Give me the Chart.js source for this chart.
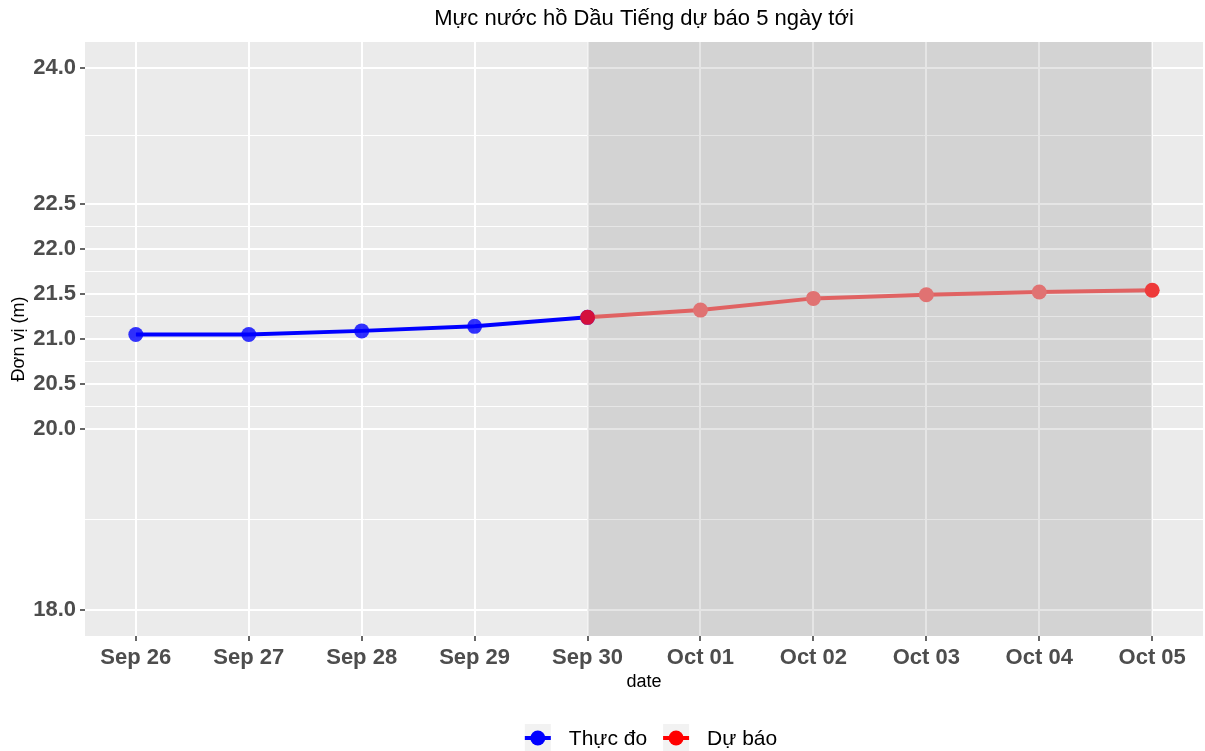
<!DOCTYPE html>
<html>
<head>
<meta charset="utf-8">
<script src="https://cdn.jsdelivr.net/npm/chart.js@4"></script>
<style>
  html, body { margin: 0; padding: 0; background: #ffffff; overflow: hidden; }
  #wrap { width: 1205px; height: 751px; }
</style>
</head>
<body>
<div id="wrap"><canvas id="levelChart"></canvas></div>
<script>
// Chart data
const dates = ['Sep 26', 'Sep 27', 'Sep 28', 'Sep 29', 'Sep 30', 'Oct 01', 'Oct 02', 'Oct 03', 'Oct 04', 'Oct 05'];
const observed = [21.05, 21.05, 21.09, 21.14, 21.24, null, null, null, null, null];
const forecast = [null, null, null, null, 21.24, 21.32, 21.45, 21.49, 21.52, 21.54];
const yBreaks = [18.0, 20.0, 20.5, 21.0, 21.5, 22.0, 22.5, 24.0];
const seriesNames = ['Thực đo', 'Dự báo'];
const chartTitle = 'Mực nước hồ Dầu Tiếng dự báo 5 ngày tới';
const forecastStart = 4; // index of Sep 30

const FONT = "'Liberation Sans', Arial, sans-serif";

// minor breaks halfway between major ones (like ggplot)
let yMinor = [];
for (let i = 0; i < yBreaks.length - 1; i++) {
  yMinor.push((yBreaks[i] + yBreaks[i + 1]) / 2);
}

function toPoints(arr){
  let out = [];
  arr.forEach((v, i) => { if (v !== null) out.push({x: i, y: v}); });
  return out;
}

// panel background + forecast shading
const panelPlugin = {
  id: 'panel',
  beforeDraw(chart){
    const {ctx, chartArea} = chart;
    ctx.save();
    ctx.fillStyle = '#EBEBEB';
    ctx.fillRect(chartArea.left, chartArea.top, chartArea.right - chartArea.left, chartArea.bottom - chartArea.top);
    ctx.restore();
  },
  beforeDatasetsDraw(chart){
    const {ctx, chartArea, scales} = chart;
    let x0 = scales.x.getPixelForValue(forecastStart);
    let x1 = scales.x.getPixelForValue(dates.length - 1);
    ctx.save();
    ctx.fillStyle = 'rgba(0,0,0,0.10)';
    ctx.fillRect(x0, chartArea.top, x1 - x0, chartArea.bottom - chartArea.top);
    ctx.restore();
  }
};

// title centred over the panel + ggplot-like legend at bottom
const textPlugin = {
  id: 'ggText',
  afterDraw(chart){
    const {ctx, chartArea} = chart;
    const mid = (chartArea.left + chartArea.right) / 2;
    ctx.save();
    ctx.fillStyle = '#000000';
    ctx.font = '22px ' + FONT;
    ctx.textAlign = 'center';
    ctx.textBaseline = 'middle';
    ctx.fillText(chartTitle, mid, 19);

    const colors = ['#0000FF', '#FF0000'];
    ctx.font = '21px ' + FONT;
    let keyW = 26, gapKey = 18, gapItem = 16;
    let widths = seriesNames.map(n => ctx.measureText(n).width);
    let total = 0;
    widths.forEach((w, i) => { total += keyW + gapKey + w + (i < widths.length - 1 ? gapItem : 0); });
    let x = mid + 7 - total / 2;
    let cy = 738;
    seriesNames.forEach((name, i) => {
      ctx.fillStyle = '#F2F2F2';
      ctx.fillRect(x, cy - 14, keyW, 28);
      ctx.strokeStyle = colors[i];
      ctx.lineWidth = 4;
      ctx.beginPath();
      ctx.moveTo(x, cy);
      ctx.lineTo(x + keyW, cy);
      ctx.stroke();
      ctx.fillStyle = colors[i];
      ctx.beginPath();
      ctx.arc(x + keyW / 2, cy, 7.5, 0, Math.PI * 2);
      ctx.fill();
      ctx.fillStyle = '#000000';
      ctx.textAlign = 'left';
      ctx.fillText(name, x + keyW + gapKey, cy + 1);
      x += keyW + gapKey + widths[i] + gapItem;
    });
    ctx.restore();
  }
};

new Chart(document.getElementById('levelChart'), {
  type: 'line',
  data: {
    datasets: [{
      label: seriesNames[0],
      data: toPoints(observed),
      order: 1,
      borderColor: '#0000FF',
      backgroundColor: 'rgba(0,0,255,0.8)',
      pointBackgroundColor: 'rgba(0,0,255,0.8)',
      pointBorderWidth: 0,
      pointRadius: 7.5,
      borderWidth: 4,
      tension: 0
    }, {
      label: seriesNames[1],
      data: toPoints(forecast),
      order: 0,
      borderColor: '#E06262',
      backgroundColor: '#E07272',
      pointBackgroundColor: ctx => ctx.dataIndex === 0 ? '#D4103C' : (ctx.dataIndex === forecast.length - forecastStart - 1 ? '#EE3A3A' : '#E07272'),
      pointBorderWidth: 0,
      pointRadius: 7.5,
      borderWidth: 4,
      tension: 0
    }]
  },
  options: {
    responsive: true,
    maintainAspectRatio: false,
    animation: false,
    events: [],
    layout: {autoPadding: false, padding: {left: 0, right: 2, top: 42, bottom: 0}},
    plugins: {
      legend: {display: false},
      tooltip: {enabled: false},
      title: {display: false}
    },
    scales: {
      x: {
        type: 'linear',
        min: -0.45,
        max: dates.length - 1 + 0.45,
        afterBuildTicks(scale){ scale.ticks = dates.map((d, i) => ({value: i})); },
        afterFit(scale){
          scale.height = 115;
          scale.paddingLeft = 0;
          scale.paddingRight = 0;
        },
        ticks: {
          callback: v => dates[v],
          color: '#4D4D4D',
          font: {family: FONT, size: 22, weight: 'bold'},
          padding: 4,
          maxRotation: 0,
          autoSkip: false
        },
        grid: {
          color: '#FFFFFF',
          lineWidth: 2,
          tickColor: '#333333',
          tickLength: 5,
          tickWidth: 1.5
        },
        border: {display: false},
        title: {
          display: true,
          text: 'date',
          color: '#000000',
          font: {family: FONT, size: 18},
          padding: {top: 0, bottom: 58}
        }
      },
      y: {
        type: 'linear',
        min: 17.71,
        max: 24.29,
        afterBuildTicks(scale){
          scale.ticks = yBreaks.concat(yMinor).sort((a, b) => a - b).map(v => ({value: v}));
        },
        afterFit(scale){ scale.width = 85; },
        ticks: {
          callback: v => yBreaks.includes(v) ? v.toFixed(1) : '',
          color: '#4D4D4D',
          font: {family: FONT, size: 22, weight: 'bold'},
          padding: 4,
          autoSkip: false
        },
        grid: {
          color: '#FFFFFF',
          lineWidth: ctx => (ctx.tick && yBreaks.includes(ctx.tick.value)) ? 2 : 1,
          tickColor: ctx => (ctx.tick && yBreaks.includes(ctx.tick.value)) ? '#333333' : 'rgba(0,0,0,0)',
          tickLength: 5,
          tickWidth: 1.5
        },
        border: {display: false},
        title: {
          display: true,
          text: 'Đơn vị (m)',
          color: '#000000',
          font: {family: FONT, size: 18},
          padding: {top: 8, bottom: 0}
        }
      }
    }
  },
  plugins: [panelPlugin, textPlugin]
});
</script>
</body>
</html>
